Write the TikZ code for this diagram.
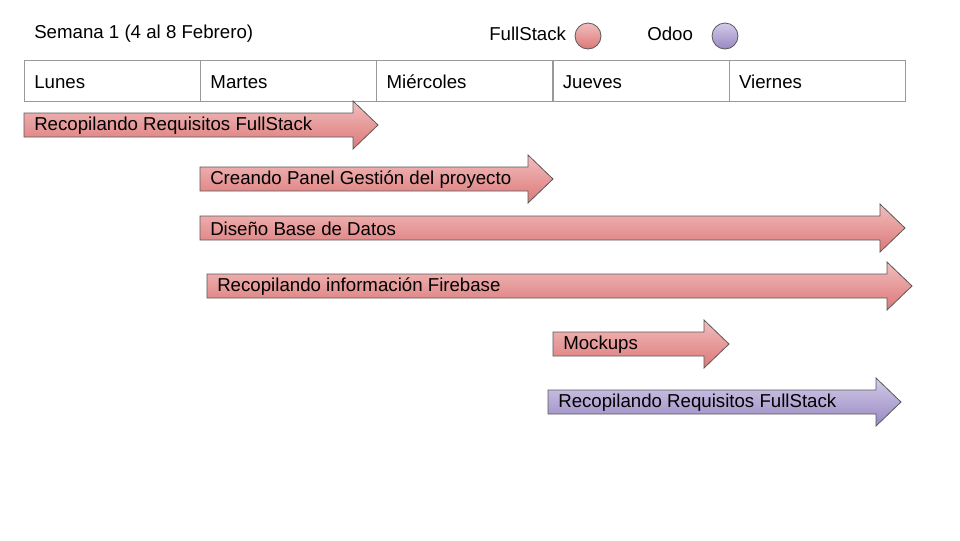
\documentclass[tikz,border=0pt]{standalone}
\usepackage{fontspec}
\setmainfont{Liberation Sans}
\begin{document}
\begin{tikzpicture}[x=0.75pt,y=-0.75pt,
  lbl/.style={anchor=west,inner sep=0pt,yshift=-0.75pt,font=\fontsize{14}{16}\selectfont,text=black},
  redfill/.style={draw=black!65,line width=0.6pt,top color=red1,bottom color=red2},
  purfill/.style={draw=black!65,line width=0.6pt,top color=pur1,bottom color=pur2},
  cell/.style={draw=black!40,line width=0.6pt,minimum width=176*0.75pt,minimum height=41*0.75pt,inner sep=0pt,anchor=north west}]
\definecolor{red1}{HTML}{F2BDBD}
\definecolor{red2}{HTML}{DC7878}
\definecolor{pur1}{HTML}{D2CBE8}
\definecolor{pur2}{HTML}{9888C2}
\useasboundingbox (0,0) rectangle (960,540);
% header
\node[lbl] (title) at (34,33) {Semana 1 (4 al 8 Febrero)};
\node[lbl] (fs) at (489,33) {FullStack};
\node[lbl] (od) at (647,33) {Odoo};
\node[circle,redfill,minimum size=26*0.75pt,inner sep=0pt] (cfs) at (588,36) {};
\node[circle,purfill,minimum size=26*0.75pt,inner sep=0pt] (cod) at (725,36) {};
% table
\foreach \i/\d in {0/Lunes,1/Martes,2/Miércoles,3/Jueves,4/Viernes}{
  \node[cell] (c\i) at ({24+176.2*\i},60) {};
  \node[lbl] (t\i) at ({34+176.2*\i},81) {\d};
}
% arrows: x1, x2, y, text, style, name
\newcommand\garrow[6]{%
  \path[#5] (#1,#3-12) -- (#2-25,#3-12) -- (#2-25,#3-24) -- (#2,#3) -- (#2-25,#3+24) -- (#2-25,#3+12) -- (#1,#3+12) -- cycle;
  \node[lbl] (#6) at (#1+10,#3) {#4};}
\garrow{24}{378}{125}{Recopilando Requisitos FullStack}{redfill}{a1}
\garrow{200}{553}{179}{Creando Panel Gestión del proyecto}{redfill}{a2}
\garrow{200}{905}{228}{Diseño Base de Datos}{redfill}{a3}
\garrow{207}{912}{286}{Recopilando información Firebase}{redfill}{a4}
\garrow{553}{729}{344}{Mockups}{redfill}{a5}
\garrow{548}{901}{402}{Recopilando Requisitos FullStack}{purfill}{a6}
\end{tikzpicture}
\end{document}
